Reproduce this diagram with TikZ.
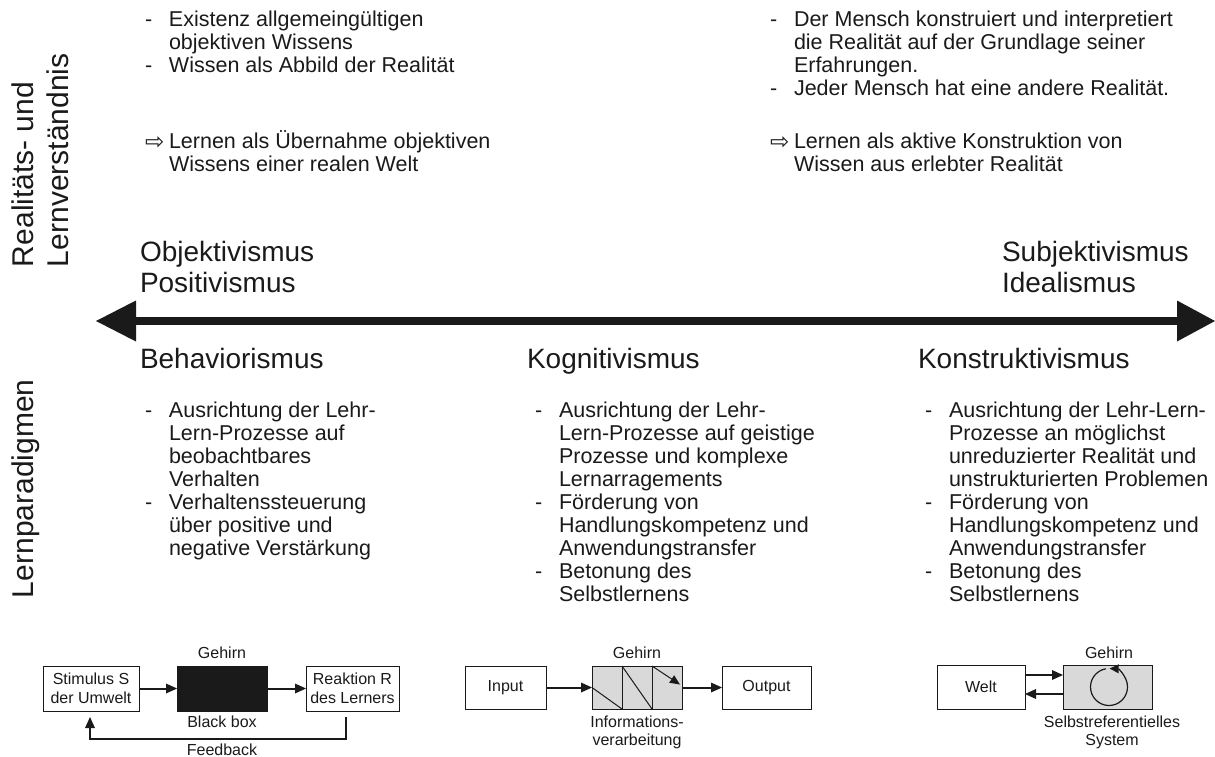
\documentclass[tikz,border=0pt]{standalone}
\usepackage{fontspec}
\setmainfont{Liberation Sans}
\newfontfamily\arrowfont{DejaVu Sans}
\usetikzlibrary{arrows.meta,calc}
\definecolor{ink}{HTML}{1A1A1A}
\definecolor{brainfill}{HTML}{D9D9D9}
\newcommand\itemdash{\makebox[24pt][l]{-}}
\newcommand\itemarrow{\makebox[24pt][l]{\raisebox{-0.5pt}{\arrowfont\fontsize{23}{23}\selectfont ⇨}}}
\newcommand\cont{\makebox[24pt][l]{}}

\begin{document}
\begin{tikzpicture}[x=1pt,y=-1pt,
  every node/.style={text=ink, inner sep=0pt, outer sep=0pt},
  txt/.style={font=\fontsize{21.5}{23}\selectfont, anchor=base west},
  head/.style={font=\fontsize{28}{31}\selectfont, anchor=base west},
  sidelbl/.style={font=\fontsize{30}{35}\selectfont, anchor=base west, rotate=90},
  lbl/.style={font=\fontsize{16}{18}\selectfont, anchor=base},
  box/.style={draw=ink, line width=1pt, font=\fontsize{16}{19}\selectfont, align=center},
  link/.style={draw=ink, line width=2pt, -{Triangle[length=11pt,width=10pt,line width=0pt]}},
  thinline/.style={draw=ink, line width=1pt},
]
\useasboundingbox (0,0) rectangle (1215,757);

% side captions
\node[sidelbl] (sideTop) at (33,267) {\begin{tabular}[t]{@{}l@{}}Realitäts- und\\Lernverständnis\end{tabular}};
\node[sidelbl] (sideBottom) at (33,598) {Lernparadigmen};

% understanding of reality and learning
\node[txt] (beliefL) at (145,27) {\begin{tabular}[t]{@{}l@{}l@{}}
\itemdash & Existenz allgemeingültigen\\
\cont & objektiven Wissens\\
\itemdash & Wissen als Abbild der Realität
\end{tabular}};
\node[txt] (learnL) at (145,149) {\begin{tabular}[t]{@{}l@{}l@{}}
\itemarrow & Lernen als Übernahme objektiven\\
\cont & Wissens einer realen Welt
\end{tabular}};
\node[txt] (beliefR) at (770,27) {\begin{tabular}[t]{@{}l@{}l@{}}
\itemdash & Der Mensch konstruiert und interpretiert\\
\cont & die Realität auf der Grundlage seiner\\
\cont & Erfahrungen.\\
\itemdash & Jeder Mensch hat eine andere Realität.
\end{tabular}};
\node[txt] (learnR) at (770,149) {\begin{tabular}[t]{@{}l@{}l@{}}
\itemarrow & Lernen als aktive Konstruktion von\\
\cont & Wissen aus erlebter Realität
\end{tabular}};

% poles of the axis
\node[head] (objekt) at (140,261) {\begin{tabular}[t]{@{}l@{}}Objektivismus\\Positivismus\end{tabular}};
\node[head] (subjekt) at (1002,261) {\begin{tabular}[t]{@{}l@{}}Subjektivismus\\Idealismus\end{tabular}};

\coordinate (axisL) at (96,321);
\coordinate (axisR) at (1215,321);
\draw[draw=ink, line width=8pt,
  {Triangle[length=40pt,width=41pt,line width=0pt]}-{Triangle[length=38pt,width=41pt,line width=0pt]}]
  (axisL) -- (axisR);

% learning paradigms
\node[head] (behav) at (140,368) {Behaviorismus};
\node[head] (kogn) at (527,368) {Kognitivismus};
\node[head] (konst) at (918,368) {Konstruktivismus};

\node[txt] (behavList) at (145,417) {\begin{tabular}[t]{@{}l@{}l@{}}
\itemdash & Ausrichtung der Lehr-\\
\cont & Lern-Prozesse auf\\
\cont & beobachtbares\\
\cont & Verhalten\\
\itemdash & Verhaltenssteuerung\\
\cont & über positive und\\
\cont & negative Verstärkung
\end{tabular}};
\node[txt] (kognList) at (535,417) {\begin{tabular}[t]{@{}l@{}l@{}}
\itemdash & Ausrichtung der Lehr-\\
\cont & Lern-Prozesse auf geistige\\
\cont & Prozesse und komplexe\\
\cont & Lernarragements\\
\itemdash & Förderung von\\
\cont & Handlungskompetenz und\\
\cont & Anwendungstransfer\\
\itemdash & Betonung des\\
\cont & Selbstlernens
\end{tabular}};
\node[txt] (konstList) at (925,417) {\begin{tabular}[t]{@{}l@{}l@{}}
\itemdash & Ausrichtung der Lehr-Lern-\\
\cont & Prozesse an möglichst\\
\cont & unreduzierter Realität und\\
\cont & unstrukturierten Problemen\\
\itemdash & Förderung von\\
\cont & Handlungskompetenz und\\
\cont & Anwendungstransfer\\
\itemdash & Betonung des\\
\cont & Selbstlernens
\end{tabular}};

% behaviourist model: stimulus - black box - reaction
\node[box, minimum width=96pt, minimum height=45pt] (stim) at (91,688.5) {Stimulus S\\der Umwelt};
\node[box, fill=ink, minimum width=90pt, minimum height=45pt] (blackbox) at (222,688.5) {};
\node[box, minimum width=93pt, minimum height=45pt] (reak) at (352.5,688.5) {Reaktion R\\des Lerners};
\node[lbl] (gehirnA) at (222,658) {Gehirn};
\node[lbl] (bbLabel) at (222,727) {Black box};
\node[lbl] (fbLabel) at (222,755) {Feedback};
\draw[link] (stim) -- (blackbox);
\draw[link] (blackbox) -- (reak);
\draw[link] ([xshift=-7pt,yshift=-6pt]reak.south) -- ++(0,22) -| ([xshift=-1pt,yshift=-6pt]stim.south);

% cognitivist model: input - processing - output
\node[box, minimum width=81pt, minimum height=43pt] (input) at (505.5,687.5) {Input};
\node[box, fill=brainfill, minimum width=90pt, minimum height=43pt] (proc) at (637,687.5) {};
\node[box, minimum width=89pt, minimum height=43pt] (output) at (766.5,687.5) {Output};
\node[lbl] (gehirnB) at (637,658) {Gehirn};
\node[lbl] (procLabel) at (637,727) {\begin{tabular}[t]{@{}c@{}}Informations-\\verarbeitung\end{tabular}};
\draw[link] (input) -- (proc);
\draw[link] (proc) -- (output);
\coordinate (d1t) at ($(proc.north west)!1/3!(proc.north east)$);
\coordinate (d1b) at ($(proc.south west)!1/3!(proc.south east)$);
\coordinate (d2t) at ($(proc.north west)!2/3!(proc.north east)$);
\coordinate (d2b) at ($(proc.south west)!2/3!(proc.south east)$);
\draw[thinline] (d1t) -- (d1b);
\draw[thinline] (d2t) -- (d2b);
\draw[thinline] (proc.west) -- (d1b);
\draw[thinline] (d1t) -- (d2b);
\coordinate (procTip) at ($(proc.east)+(-2,-3)$);
\draw[thinline, -{Triangle[length=10pt,width=9pt,line width=0pt]}] (d2t) -- (procTip);

% constructivist model: world - self-referential system
\node[box, minimum width=88pt, minimum height=44pt] (welt) at (981,687) {Welt};
\node[box, fill=brainfill, minimum width=89pt, minimum height=44pt] (self) at (1107.5,687) {};
\node[lbl] (gehirnC) at (1109,658) {Gehirn};
\node[lbl] (selfLabel) at (1112,727) {\begin{tabular}[t]{@{}c@{}}Selbstreferentielles\\System\end{tabular}};
\draw[link] ([yshift=12pt]welt.east) -- ([yshift=12pt]self.west);
\draw[link] ([yshift=-7pt]self.west) -- ([yshift=-7pt]welt.east);
\coordinate (loopc) at (1109,687);
\draw[draw=ink, line width=1.2pt, -{Triangle[length=9pt,width=9pt,line width=0pt]}]
  ([shift={(620:18.5)}]loopc) arc[start angle=620, end angle=272, radius=18.5];
\end{tikzpicture}
\end{document}
